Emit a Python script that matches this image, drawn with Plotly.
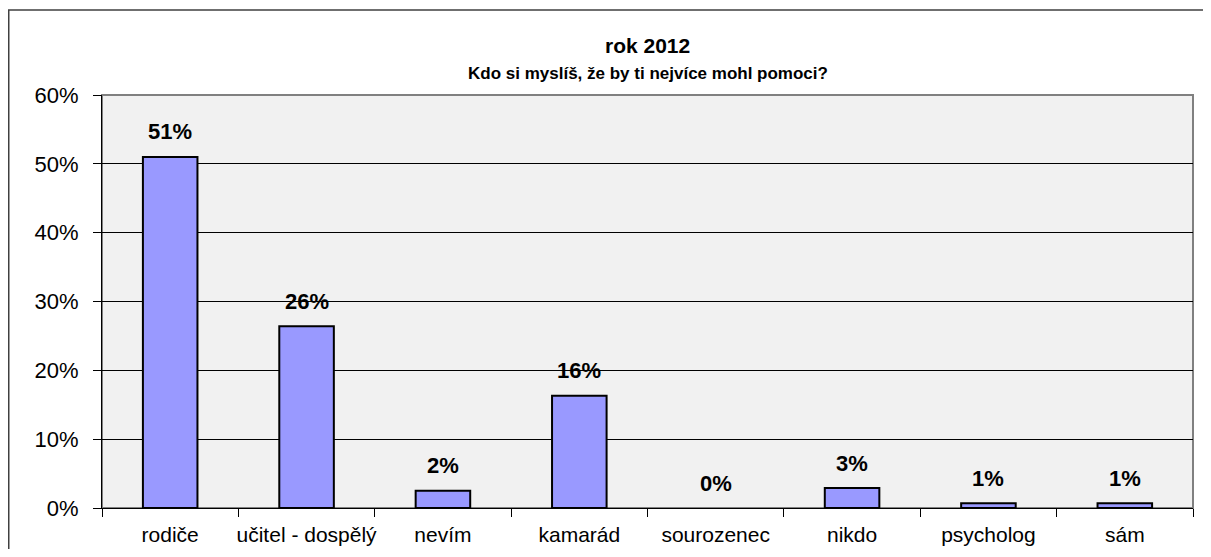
import plotly.graph_objects as go

# Kdo si myslíš, že by ti nejvíce mohl pomoci? (rok 2012)
categories = ["rodiče", "učitel - dospělý", "nevím", "kamarád", "sourozenec", "nikdo", "psycholog", "sám"]
shares = [0.510, 0.264, 0.025, 0.163, 0.0, 0.029, 0.007, 0.007]
labels = ["51%", "26%", "2%", "16%", "0%", "3%", "1%", "1%"]

FONT = "Liberation Sans, Arial, sans-serif"

fig = go.Figure()
fig.add_trace(go.Bar(
    x=categories,
    y=shares,
    marker=dict(color="#9999FF",
                line=dict(color="black", width=[2 if v > 0 else 0 for v in shares])),
))

# value labels float a little above each bar
for cat, val, lab in zip(categories, shares, labels):
    fig.add_annotation(x=cat, y=val, text="<b>" + lab + "</b>", showarrow=False,
                       yanchor="middle", yshift=25,
                       font=dict(family=FONT, size=22, color="black"))

# page body has an 8px margin, so figure coords = page coords - 8
# plot area at page x 102..1193, y 95..508
L, T = 94, 87
W, H = 1195, 541
R, B = W - 1185, H - 500
pw, ph = W - L - R, H - T - B

fig.add_annotation(text="<b>rok 2012</b>", xref="paper", yref="paper", x=0.5, y=(500 - 37) / ph,
                   showarrow=False, font=dict(size=21), xanchor="center", yanchor="middle")
fig.add_annotation(text="<b>Kdo si myslíš, že by ti nejvíce mohl pomoci?</b>", xref="paper", yref="paper",
                   x=0.5, y=(500 - 65) / ph, showarrow=False, font=dict(size=17),
                   xanchor="center", yanchor="middle")

fig.update_layout(
    width=W,
    height=H,
    margin=dict(l=L, r=R, t=T, b=B),
    paper_bgcolor="white",
    plot_bgcolor="#F1F1F1",
    bargap=0.6,
    showlegend=False,
    font=dict(family=FONT, color="black"),
    shapes=[
        # outer chart frame
        dict(type="rect", xref="paper", yref="paper",
             x0=(0.75 - L) / pw, x1=(1205 - L) / pw, y0=-0.3, y1=(500 - 2) / ph,
             line=dict(color="#404040", width=1.5), layer="below"),
        # plot area border
        dict(type="rect", xref="paper", yref="paper", x0=0, x1=1, y0=0, y1=1,
             line=dict(color="#808080", width=2), layer="below"),
    ],
)

fig.update_xaxes(
    showgrid=False, automargin=False, tickangle=0,
    showline=True, linecolor="black", linewidth=1,
    ticks="outside", tickson="boundaries", ticklen=8, tickcolor="black",
    tickfont=dict(size=21), ticklabelstandoff=8,
)
fig.update_yaxes(
    range=[0, 0.6], dtick=0.1, tickformat=".0%", automargin=False,
    showgrid=True, gridcolor="black", gridwidth=1,
    showline=True, linecolor="black", linewidth=1,
    ticks="outside", ticklen=8, tickcolor="black",
    tickfont=dict(size=22), zeroline=False, ticklabelstandoff=10,
)

fig.write_html("out.html")
